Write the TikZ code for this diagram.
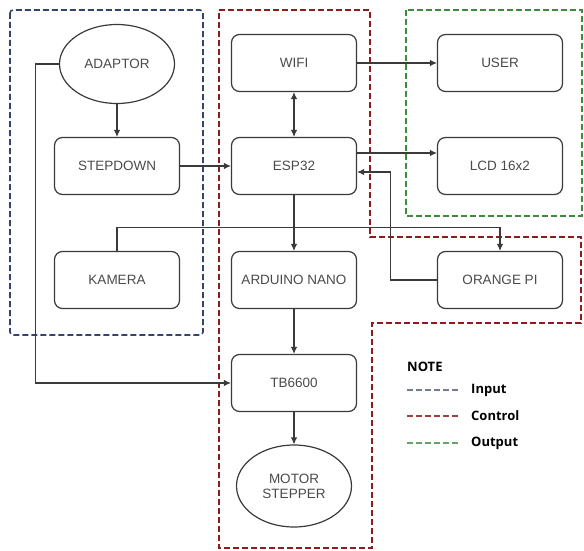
\documentclass[tikz,border=0pt]{standalone}
\usepackage{fontspec}
\setmainfont{Liberation Sans}
\newfontfamily\notefont{Open Sans}
\usetikzlibrary{arrows.meta,shapes.geometric}

\definecolor{garis}{HTML}{3A3A3A}
\definecolor{teks}{HTML}{4A4A4A}
\definecolor{inputc}{HTML}{34446E}
\definecolor{controlc}{HTML}{8E1C1C}
\definecolor{outputc}{HTML}{3C8C3C}

\begin{document}
\begin{tikzpicture}[x=1pt,y=-1pt,
  blok/.style={draw=garis,line width=1.2pt,rounded corners=8pt,minimum width=125pt,minimum height=57pt,text=teks,font=\fontsize{13.5}{15}\selectfont},
  elips/.style={draw=garis,line width=1.2pt,ellipse,minimum width=115pt,minimum height=79pt,text=teks,align=center,font=\fontsize{13.5}{15}\selectfont},
  panah/.style={draw=garis,line width=1.1pt,-{Latex[length=7pt,width=6.5pt]}},
  duapanah/.style={draw=garis,line width=1.1pt,{Latex[length=7pt,width=6.5pt]}-{Latex[length=7pt,width=6.5pt]}},
  grup/.style={dash pattern=on 6pt off 3pt,line width=1.6pt},
  catatan/.style={anchor=west,inner sep=0pt,font=\notefont\bfseries\fontsize{13}{15}\selectfont}]
\useasboundingbox (0,0) rectangle (584,551);

\draw[grup,draw=inputc,rounded corners=3pt] (10,10) rectangle (203,335);
\draw[grup,draw=controlc] (219,10) -- (370,10) -- (370,237) -- (581,237) -- (581,323) -- (372,323) -- (372,548) -- (219,548) -- cycle;
\draw[grup,draw=outputc] (406,10) rectangle (582,216);

\node[elips] (adaptor) at (117,64) {ADAPTOR};
\node[blok] (stepdown) at (117,166) {STEPDOWN};
\node[blok] (kamera) at (117,280) {KAMERA};

\node[blok] (wifi) at (294,63) {WIFI};
\node[blok] (esp) at (294,166) {ESP32};
\node[blok] (nano) at (294,280) {ARDUINO NANO};
\node[blok] (tb) at (294,383) {TB6600};
\node[elips,minimum height=82pt] (motor) at (294,486) {MOTOR\\STEPPER};

\node[blok] (user) at (500,63) {USER};
\node[blok] (lcd) at (500,166) {LCD 16x2};
\node[blok] (orange) at (500,280) {ORANGE PI};

\draw[panah] (adaptor) -- (stepdown);
\draw[panah] (adaptor.west) -- ++(-23,0) |- (tb.west);
\draw[panah] (stepdown) -- (esp);
\draw[panah] (kamera.north) -- ++(0,-23) -| (orange.north);
\draw[duapanah] (wifi) -- (esp);
\draw[panah] (wifi) -- (user);
\draw[panah] ([yshift=13pt]esp.east) -- ([yshift=13pt]lcd.west);
\draw[panah] (orange.west) -- ++(-46,0) |- ([yshift=-6pt]esp.east);
\draw[panah] (esp) -- (nano);
\draw[panah] (nano) -- (tb);
\draw[panah] (tb) -- (motor);

\node[catatan] (note) at (407,367) {NOTE};
\draw[grup,line width=1.2pt,draw=inputc!70] (407,390) -- (460,390);
\draw[grup,line width=1.2pt,draw=controlc!85] (407,416) -- (460,416);
\draw[grup,line width=1.2pt,draw=outputc!80] (407,443) -- (460,443);
\node[catatan] (input) at (471,390) {Input};
\node[catatan] (control) at (471,416) {Control};
\node[catatan] (output) at (471,443) {Output};
\end{tikzpicture}
\end{document}
